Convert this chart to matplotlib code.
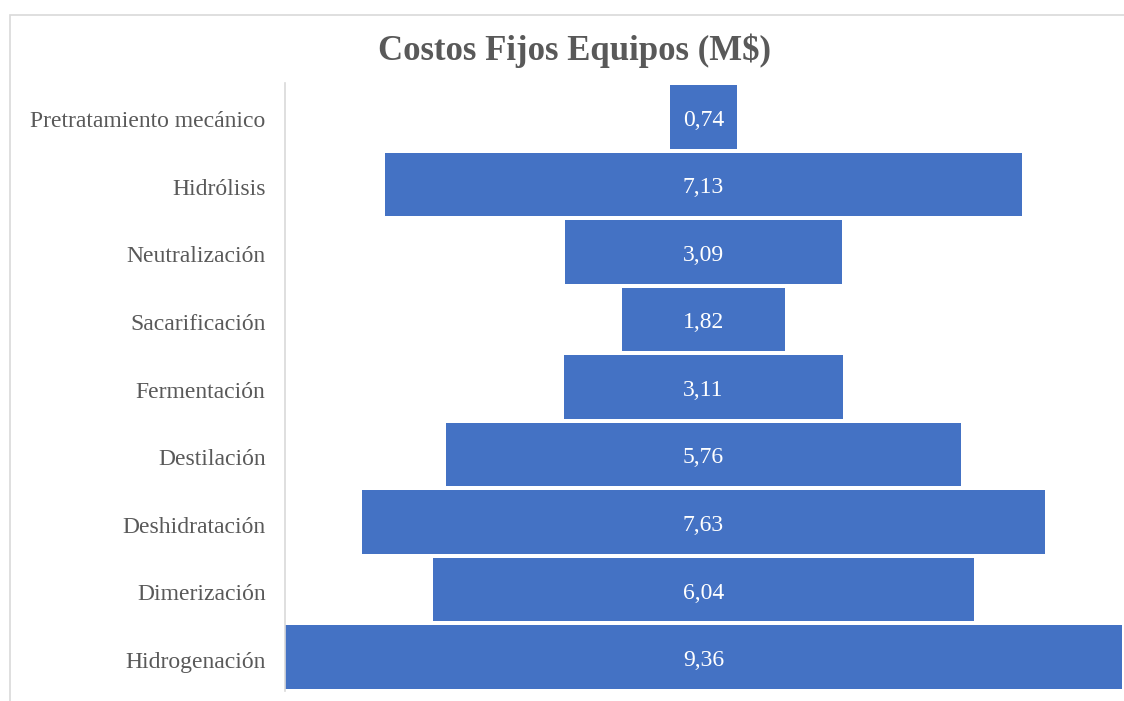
import matplotlib.pyplot as plt
from matplotlib.patches import Rectangle
from matplotlib.transforms import ScaledTranslation

# etapas del proceso y sus costos fijos (M$)
etapas = [
    "Pretratamiento mecánico",
    "Hidrólisis",
    "Neutralización",
    "Sacarificación",
    "Fermentación",
    "Destilación",
    "Deshidratación",
    "Dimerización",
    "Hidrogenación",
]
costos = [0.74, 7.13, 3.09, 1.82, 3.11, 5.76, 7.63, 6.04, 9.36]
etiquetas = ["0,74", "7,13", "3,09", "1,82", "3,11", "5,76", "7,63", "6,04", "9,36"]


def main():
    plt.rcParams["font.family"] = ["Liberation Serif", "DejaVu Serif"]
    gris = "#595959"
    azul = "#4472C4"

    fig = plt.figure(figsize=(11.24, 7.01), dpi=100)

    # marco del grafico
    fig.patches.append(Rectangle((10 / 1124, -0.1), 1.2, 1.1 - 15 / 701,
                                 transform=fig.transFigure, fill=False,
                                 edgecolor="#d9d9d9", linewidth=1.2))

    ax = fig.add_axes([285 / 1124, 1 - 691 / 701, 837 / 1124, (691 - 83) / 701])

    y = list(range(len(etapas)))
    lefts = [-c / 2 for c in costos]
    ax.barh(y, costos, left=lefts, height=0.94, color=azul)

    for yi, lab in zip(y, etiquetas):
        ax.text(0, yi + 0.05, lab, ha="center", va="center", color="white", fontsize=17)

    mx = max(costos) / 2
    ax.set_xlim(-mx, mx)
    ax.set_ylim(len(etapas) - 0.5, -0.5)
    ax.set_yticks(y)
    ax.set_yticklabels(etapas, fontsize=17, color=gris)
    ax.tick_params(axis="y", length=0, pad=14)
    ax.set_xticks([])
    # bajar un poco las etiquetas
    off = ScaledTranslation(0, -0.025, fig.dpi_scale_trans)
    for t in ax.get_yticklabels():
        t.set_transform(t.get_transform() + off)

    for s in ["top", "right", "bottom"]:
        ax.spines[s].set_visible(False)
    ax.spines["left"].set_color("#d9d9d9")
    ax.spines["left"].set_linewidth(1.2)

    fig.text(575 / 1124, 1 - 51 / 701, "Costos Fijos Equipos (M$)", ha="center",
             va="center", fontsize=25, fontweight="bold", color=gris)

    fig.savefig("out.png", dpi=100)
    plt.close(fig)


if __name__ == "__main__":
    main()
